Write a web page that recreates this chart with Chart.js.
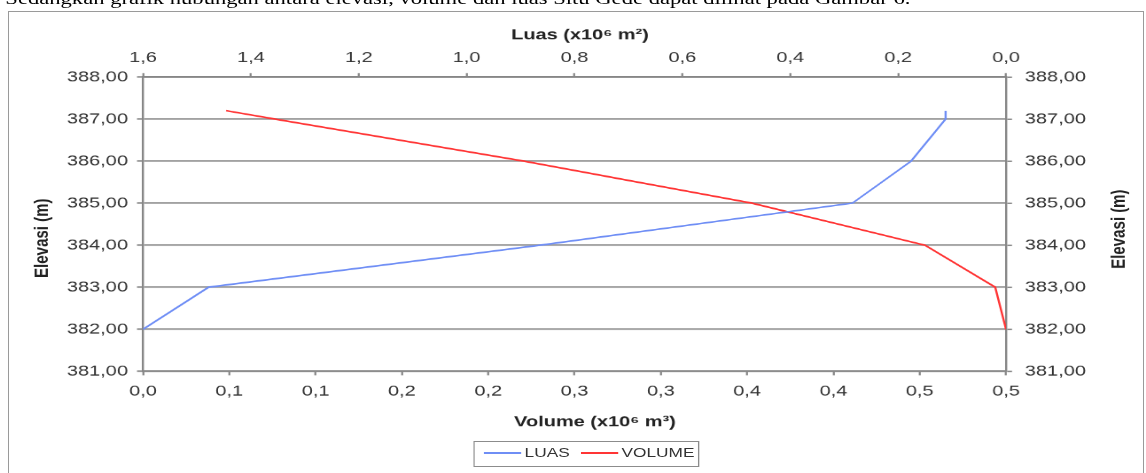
<!DOCTYPE html>
<html>
<head>
<meta charset="utf-8">
<script src="https://cdn.jsdelivr.net/npm/chart.js@4.4.1/dist/chart.umd.min.js"></script>
<style>
  html, body { margin: 0; padding: 0; background: #fff; overflow: hidden; }
  #frame { position: absolute; left: 8px; top: 11px; width: 1134px; height: 480px; border: 1.5px solid #9a9a9a; }
  /* the reference is a horizontally stretched screenshot, so the whole page is stretched the same way */
  #page { position: absolute; left: 0; top: 0; width: 862px; height: 473px; transform: scaleX(1.32947); transform-origin: 0 0; }
  #lead { position: absolute; left: 4px; top: -10px; font: 17px 'Liberation Serif', 'Times New Roman', serif; line-height: 18px; white-space: nowrap; color: #000; }
  #box { position: absolute; left: 0; top: 0; width: 862px; height: 473px; }
  #legend { position: absolute; left: 356px; top: 441px; width: 170px; height: 26px; box-sizing: border-box; border: 1px solid #8c8c8c; font: 13px 'Liberation Sans', Arial, sans-serif; color: #333; }
  #legend .ln { position: absolute; top: 10px; height: 2px; width: 28px; }
  #legend .tx { position: absolute; top: 3px; line-height: 16px; }
</style>
</head>
<body>
<div id="frame"></div>
<div id="page">
  <div id="lead">Sedangkan grafik hubungan antara elevasi, volume dan luas Situ Gede dapat dilihat pada Gambar 6.</div>
  <div id="box"><canvas id="chartElevasi"></canvas></div>
  <div id="legend"></div>
</div>
<script>
const S = 1146 / 862;

// data (in the original, LUAS follows the bottom scale and VOLUME the top one)
const elevasi = [382, 383, 384, 385, 386, 387, 387.2];
const luas = [0, 0.038, 0.230, 0.411, 0.445, 0.465, 0.465];
const volume = [0, 0.020, 0.150, 0.471, 0.894, 1.355, 1.446];

const elevasiTicks = [381, 382, 383, 384, 385, 386, 387, 388];
const elevasiLabels = ['381,00', '382,00', '383,00', '384,00', '385,00', '386,00', '387,00', '388,00'];
const bawahTicks = [0, 0.05, 0.1, 0.15, 0.2, 0.25, 0.3, 0.35, 0.4, 0.45, 0.5];
const bawahLabels = ['0,0', '0,1', '0,1', '0,2', '0,2', '0,3', '0,3', '0,4', '0,4', '0,5', '0,5'];
const atasTicks = [0, 0.2, 0.4, 0.6, 0.8, 1.0, 1.2, 1.4, 1.6];
const atasLabels = ['0,0', '0,2', '0,4', '0,6', '0,8', '1,0', '1,2', '1,4', '1,6'];

const seriesNames = ['LUAS', 'VOLUME'];
const seriesColors = ['#6f8ef5', '#ff3535'];

const fontFamily = "'Liberation Sans', Arial, sans-serif";
const tickFont = { family: fontFamily, size: 15 };
const textColor = '#333';
const gridColor = '#a2a2a2';
const axisColor = '#868686';

function toPoints(xs) {
  return xs.map(function(v, i) { return { x: v, y: elevasi[i] }; });
}
function setTicks(values) {
  return function(scale) { scale.ticks = values.map(function(v) { return { value: v }; }); };
}
function labelFrom(values, labels) {
  return function(v) { return labels[values.indexOf(v)]; };
}

// axis titles, positions in screen pixels
const axisTitles = [
  { text: 'Luas (x10\u2076 m\u00b2)', x: 580, y: 35, angle: 0 },
  { text: 'Volume (x10\u2076 m\u00b3)', x: 595, y: 422, angle: 0 },
  { text: 'Elevasi (m)', x: 42, y: 238, angle: -90 },
  { text: 'Elevasi (m)', x: 1119, y: 229, angle: -90 }
];

const titlePlugin = {
  id: 'axisTitles',
  afterDraw: function(chart) {
    const ctx = chart.ctx;
    ctx.save();
    ctx.font = 'bold 15px ' + fontFamily;
    ctx.fillStyle = '#222';
    ctx.textAlign = 'center';
    ctx.textBaseline = 'middle';
    axisTitles.forEach(function(t) {
      ctx.save();
      ctx.translate(t.x / S, t.y);
      ctx.rotate(t.angle * Math.PI / 180);
      ctx.fillText(t.text, 0, 0);
      ctx.restore();
    });
    ctx.restore();
  }
};

const ctx = document.getElementById('chartElevasi').getContext('2d');
const chart = new Chart(ctx, {
  type: 'scatter',
  data: {
    datasets: [{
      label: seriesNames[0],
      data: toPoints(luas),
      xAxisID: 'x',
      yAxisID: 'y',
      showLine: true,
      borderColor: seriesColors[0],
      backgroundColor: seriesColors[0],
      borderWidth: 1.6,
      pointRadius: 0,
      tension: 0
    }, {
      label: seriesNames[1],
      data: toPoints(volume),
      xAxisID: 'x2',
      yAxisID: 'y',
      showLine: true,
      borderColor: seriesColors[1],
      backgroundColor: seriesColors[1],
      borderWidth: 1.6,
      pointRadius: 0,
      tension: 0
    }]
  },
  options: {
    responsive: true,
    maintainAspectRatio: false,
    animation: false,
    devicePixelRatio: 1.5,
    layout: { padding: 0 },
    plugins: { legend: { display: false }, tooltip: { enabled: false } },
    scales: {
      y: {
        type: 'linear', position: 'left', min: 381, max: 388,
        afterBuildTicks: setTicks(elevasiTicks),
        afterFit: function(s) { s.width = 143 / S; },
        ticks: { callback: labelFrom(elevasiTicks, elevasiLabels), font: tickFont, color: textColor, padding: 6.8 },
        grid: { color: gridColor, lineWidth: 1.8, tickLength: 4.5, tickColor: axisColor, tickWidth: 1.5 },
        border: { color: axisColor, width: 1.6 }
      },
      y2: {
        type: 'linear', position: 'right', min: 381, max: 388,
        afterBuildTicks: setTicks(elevasiTicks),
        afterFit: function(s) { s.width = (1146 - 1006) / S; },
        ticks: { callback: labelFrom(elevasiTicks, elevasiLabels), font: tickFont, color: textColor, padding: 9.7 },
        grid: { drawOnChartArea: false, tickLength: 4.5, tickColor: axisColor, tickWidth: 1.5 },
        border: { color: axisColor, width: 1.6 }
      },
      x: {
        type: 'linear', position: 'bottom', min: 0, max: 0.5,
        afterBuildTicks: setTicks(bawahTicks),
        afterFit: function(s) { s.height = 473 - 371; },
        ticks: { callback: labelFrom(bawahTicks, bawahLabels), font: tickFont, color: textColor, padding: 7, maxRotation: 0, autoSkip: false },
        grid: { drawOnChartArea: false, tickLength: 4, tickColor: axisColor, tickWidth: 1.5 },
        border: { color: axisColor, width: 1.6 }
      },
      x2: {
        type: 'linear', position: 'top', min: 0, max: 1.6, reverse: true,
        afterBuildTicks: setTicks(atasTicks),
        afterFit: function(s) { s.height = 77; },
        ticks: { callback: labelFrom(atasTicks, atasLabels), font: tickFont, color: textColor, padding: 6, maxRotation: 0, autoSkip: false },
        grid: { drawOnChartArea: false, tickLength: 4, tickColor: axisColor, tickWidth: 1.5 },
        border: { color: axisColor, width: 1.6 }
      }
    }
  },
  plugins: [titlePlugin]
});

// legend box like the original
const legend = document.getElementById('legend');
const legendPos = [{ line: 6.5, text: 37.6 }, { line: 80.4, text: 110.5 }];
chart.data.datasets.forEach(function(ds, i) {
  const ln = document.createElement('span');
  ln.className = 'ln';
  ln.style.left = legendPos[i].line + 'px';
  ln.style.background = ds.borderColor;
  legend.appendChild(ln);
  const tx = document.createElement('span');
  tx.className = 'tx';
  tx.style.left = legendPos[i].text + 'px';
  tx.textContent = ds.label;
  legend.appendChild(tx);
});
</script>
</body>
</html>
